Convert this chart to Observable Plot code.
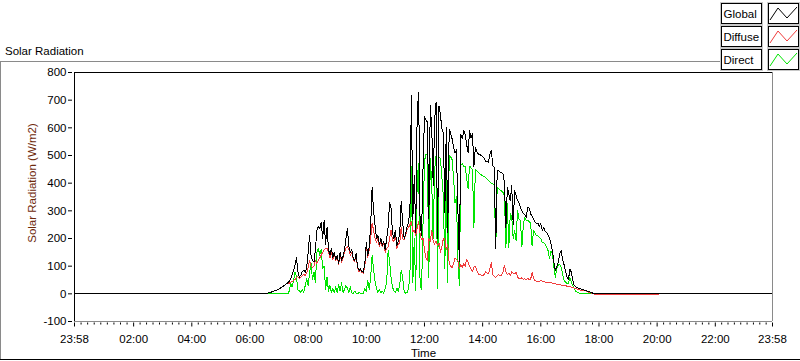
<!DOCTYPE html>
<html>
<head>
<meta charset="utf-8">
<script src="https://cdn.jsdelivr.net/npm/d3@7"></script>
<script src="https://cdn.jsdelivr.net/npm/@observablehq/plot@0.6"></script>
<style>
html,body{margin:0;padding:0;background:#fff;}
#wrap{position:relative;width:800px;height:361px;overflow:hidden;font-family:"Liberation Sans",Arial,sans-serif;}
#wrap > svg{position:absolute;left:0;top:0;}
</style>
</head>
<body>
<div id="wrap"></div>
<script>
// sample times (first entry is 23:58 of the previous day)
const times = [
 "23:58",
 "06:18","06:21","06:24","06:27","06:30","06:33","06:36","06:39","06:42","06:45","06:48","06:51","06:54","06:57",
 "07:00","07:03","07:06","07:09","07:12","07:15","07:18","07:21","07:24","07:27","07:30","07:33","07:36","07:39","07:42","07:45","07:48","07:51","07:54","07:57",
 "08:00","08:03","08:06","08:09","08:12","08:15","08:18","08:21","08:24","08:27","08:30","08:33","08:36","08:39","08:42","08:45","08:48","08:51","08:54","08:57",
 "09:00","09:03","09:06","09:09","09:12","09:15","09:18","09:21","09:24","09:27","09:30","09:33","09:36","09:39","09:42","09:45","09:48","09:51","09:54","09:57",
 "10:00","10:03","10:06","10:09","10:12","10:15","10:18","10:21","10:24","10:27","10:30","10:33","10:36","10:39","10:42","10:45","10:48","10:51","10:54","10:57",
 "11:00","11:03","11:06","11:09","11:12","11:15","11:18","11:21","11:24","11:27","11:30","11:33","11:36","11:39","11:42","11:45","11:48","11:51","11:54","11:57",
 "12:00","12:03","12:06","12:09","12:12","12:15","12:18","12:21","12:24","12:27","12:30","12:33","12:36","12:39","12:42","12:45","12:48","12:51","12:54","12:57",
 "13:00","13:03","13:06","13:09","13:12","13:15","13:18","13:21","13:24","13:27","13:30","13:33","13:36","13:39","13:42","13:45","13:48","13:51","13:54","13:57",
 "14:00","14:03","14:06","14:09","14:12","14:15","14:18","14:21","14:24","14:27","14:30","14:33","14:36","14:39","14:42","14:45","14:48","14:51","14:54","14:57",
 "15:00","15:03","15:06","15:09","15:12","15:15","15:18","15:21","15:24","15:27","15:30","15:33","15:36","15:39","15:42","15:45","15:48","15:51","15:54","15:57",
 "16:00","16:03","16:06","16:09","16:12","16:15","16:18","16:21","16:24","16:27","16:30","16:33","16:36","16:39","16:42","16:45","16:48","16:51","16:54","16:57",
 "17:00","17:03","17:06","17:09","17:12","17:15","17:18","17:21","17:24","17:27","17:30","17:33","17:36","17:39","17:42","17:45","17:48","17:51","17:54","17:57",
 "18:00",
 "19:00","19:30","20:00","20:03","23:58"
];

const globalRad = [
 0,
 0,0,0,0,0,0,2,4,5,7,9,11,13,15,
 18,21,24,28,32,36,40,45,55,70,85,105,130,80,60,68,80,85,78,95,
 150,210,140,120,115,160,230,245,235,258,200,265,180,240,160,140,165,130,150,125,
 140,110,150,120,135,160,200,235,170,150,160,130,120,145,95,85,90,80,78,110,
 185,140,170,250,385,300,250,200,210,180,200,175,190,160,200,240,330,310,220,200,
 230,175,190,220,335,260,200,215,240,260,300,716,270,427,223,656,728,250,211,450,
 640,630,620,271,680,600,391,632,692,199,680,645,596,580,295,600,223,595,580,560,
 530,511,520,300,115,577,560,590,575,540,511,590,565,578,460,530,515,505,505,500,
 495,490,480,478,475,505,517,463,457,165,445,445,440,438,433,400,240,385,360,337,
 391,250,373,355,337,330,313,300,290,285,277,313,310,289,280,270,260,253,255,245,
 253,229,240,225,223,212,200,180,156,114,84,100,114,144,156,125,105,84,60,50,
 90,78,48,30,26,22,20,18,17,15,13,12,10,8,6,4,2,1,0,0,
 0,
 0,0,0,0,0
];

const diffuseRad = [
 0,
 0,0,0,0,0,0,2,4,5,7,9,11,13,15,
 18,21,24,28,32,36,40,38,42,45,48,52,60,62,55,60,65,70,65,75,
 95,120,100,95,100,120,110,120,130,140,150,160,165,165,150,130,150,125,145,120,
 135,105,140,115,130,150,165,170,160,140,150,125,115,140,92,80,88,78,75,100,
 175,130,160,200,255,230,200,185,200,170,195,170,185,150,165,170,200,230,195,190,
 220,165,180,185,240,200,195,210,230,240,250,260,225,230,210,240,260,215,195,200,
 160,130,120,200,190,230,190,180,190,175,185,150,170,200,200,160,180,110,100,95,
 110,130,125,120,90,105,95,110,100,125,115,100,90,80,96,100,85,72,70,68,
 66,70,80,75,72,90,114,70,62,60,65,70,64,68,78,102,80,70,75,66,
 80,75,72,78,60,56,54,58,52,55,50,56,50,52,78,55,48,46,44,45,
 48,46,44,42,42,40,40,40,38,37,36,35,34,33,32,31,30,29,28,27,
 26,24,22,21,19,17,15,14,13,12,11,10,8,6,4,2,0,-2,-3,-3,
 -3,
 -4,-3,-4,0,0
];

const directRad = [
 0,
 0,0,0,0,0,0,0,0,0,0,0,0,0,0,
 0,0,0,0,0,0,0,10,40,25,50,80,60,15,10,5,15,5,30,55,
 30,75,110,50,80,40,150,165,140,160,90,100,15,60,10,30,5,20,3,25,
 5,35,10,40,5,15,30,20,5,25,3,2,10,2,0,5,2,0,3,20,
 8,50,15,60,138,90,45,20,5,15,3,10,2,20,40,156,120,60,25,10,
 5,20,10,35,85,60,10,2,5,20,60,460,40,200,10,420,470,30,15,250,
 480,505,505,60,490,400,200,450,500,20,495,490,420,350,90,440,40,500,495,485,
 420,330,350,120,30,465,470,460,460,420,380,462,455,450,240,450,445,440,433,430,
 427,424,421,415,410,405,400,397,393,162,385,380,376,372,367,355,168,325,168,289,
 280,200,229,193,301,270,265,170,250,277,265,265,262,255,174,229,220,211,210,205,
 200,185,185,180,168,156,126,155,145,96,60,90,105,105,96,72,48,42,38,36,
 60,42,30,20,10,6,3,2,1,0,0,0,0,0,0,0,0,0,0,0,
 0,
 0,0,0,0,0
];

const yTicks = [-100, 0, 100, 200, 300, 400, 500, 600, 700, 800];
const xTickLabels = ["23:58","02:00","04:00","06:00","08:00","10:00","12:00","14:00","16:00","18:00","20:00","22:00","23:58"];
const seriesNames = ["Global", "Diffuse", "Direct"];
const seriesColors = ["#000000", "#f03c3c", "#00e400"];

// ---- build ----
const toMin = s => { const [h, m] = s.split(":").map(Number); return h * 60 + m; };
const mins = times.map((s, i) => i === 0 ? toMin(s) - 1440 : toMin(s));
const majorTicks = xTickLabels.map((s, i) => i === 0 ? toMin(s) - 1440 : toMin(s));
const labelAt = new Map(majorTicks.map((t, i) => [t, xTickLabels[i]]));
const minorTicks = [];
for (let i = 0; i < majorTicks.length - 1; i++) {
  const a = majorTicks[i], b = majorTicks[i + 1];
  for (let k = 1; k < 9; k++) minorTicks.push(a + (b - a) * k / 9);
}
const xDomain = [majorTicks[0], majorTicks[majorTicks.length - 1]];

const lineOpts = (arr, color) => Plot.line(arr, {
  x: (d, i) => mins[i], y: d => d, stroke: color, strokeWidth: 1, shapeRendering: "crispEdges"
});

const chart = Plot.plot({
  width: 800, height: 361,
  marginLeft: 74, marginRight: 28, marginTop: 72, marginBottom: 40,
  x: {type: "linear", domain: xDomain, axis: null},
  y: {domain: [-100, 800], axis: null},
  style: {background: "transparent", fontFamily: "'Liberation Sans', Arial, sans-serif", fontSize: "11.5px", color: "#000"},
  marks: [
    lineOpts(directRad, seriesColors[2]),
    lineOpts(diffuseRad, seriesColors[1]),
    lineOpts(globalRad, seriesColors[0]),
    Plot.ruleY([800], {stroke: "#000"}),
    Plot.ruleX([xDomain[0]], {stroke: "#000"}),
    Plot.ruleX([xDomain[1]], {stroke: "#8a8a8a"}),
    Plot.ruleY([-100], {stroke: "#8a8a8a"}),
    Plot.axisY(yTicks, {anchor: "left", tickSize: 4, tickPadding: 2, dx: -2, label: null, tickFormat: d => String(d)}),
    Plot.axisX(majorTicks, {anchor: "bottom", tickSize: 4, tickPadding: 7.5, dy: 1.5, label: null, tickFormat: d => labelAt.get(d)}),
    Plot.axisX(minorTicks, {anchor: "bottom", tickSize: 2, dy: 1.5, label: null, tickFormat: () => ""})
  ]
});

const wrap = document.getElementById("wrap");
wrap.appendChild(chart);

// ---- decorations: frame, captions, legend ----
const ns = "http://www.w3.org/2000/svg";
const ov = d3.select(wrap).append("svg")
  .attr("xmlns", ns).attr("width", 800).attr("height", 361)
  .style("font-family", "'Liberation Sans', Arial, sans-serif").style("font-size", "11.5px");

ov.append("line").attr("x1", 0).attr("y1", 61.5).attr("x2", 721).attr("y2", 61.5).attr("stroke", "#8a8a8a");
ov.append("line").attr("x1", 0.5).attr("y1", 61).attr("x2", 0.5).attr("y2", 360).attr("stroke", "#8a8a8a");
ov.append("line").attr("x1", 0).attr("y1", 359.5).attr("x2", 800).attr("y2", 359.5).attr("stroke", "#000");

ov.append("text").attr("x", 5).attr("y", 55).text("Solar Radiation");
ov.append("text").attr("transform", "translate(35.5,183) rotate(-90)").attr("text-anchor", "middle")
  .attr("fill", "#6e2a0c").text("Solar Radiation (W/m2)");
ov.append("text").attr("x", 423.5).attr("y", 356.5).attr("text-anchor", "middle").text("Time");

seriesNames.forEach((name, i) => {
  const top = 3 + 23 * i;
  const g = ov.append("g");
  g.append("rect").attr("x", 720.5).attr("y", top - 0.5).attr("width", 42).attr("height", 22).attr("fill", "none").attr("stroke", "#c8c8c8");
  g.append("rect").attr("x", 721.5).attr("y", top + 0.5).attr("width", 40).attr("height", 20).attr("fill", "#fff").attr("stroke", "#000");
  g.append("text").attr("x", 723.5).attr("y", top + 15).text(name);
  g.append("rect").attr("x", 767.5).attr("y", top - 0.5).attr("width", 32).attr("height", 22).attr("fill", "none").attr("stroke", "#c8c8c8");
  g.append("rect").attr("x", 768.5).attr("y", top + 0.5).attr("width", 30).attr("height", 20).attr("fill", "#fff").attr("stroke", "#000");
  g.append("polyline").attr("points", `770,${top + 17} 778,${top + 5} 787,${top + 15} 797,${top + 4}`)
    .attr("fill", "none").attr("stroke", seriesColors[i]).attr("stroke-width", 1);
});
</script>
</body>
</html>
